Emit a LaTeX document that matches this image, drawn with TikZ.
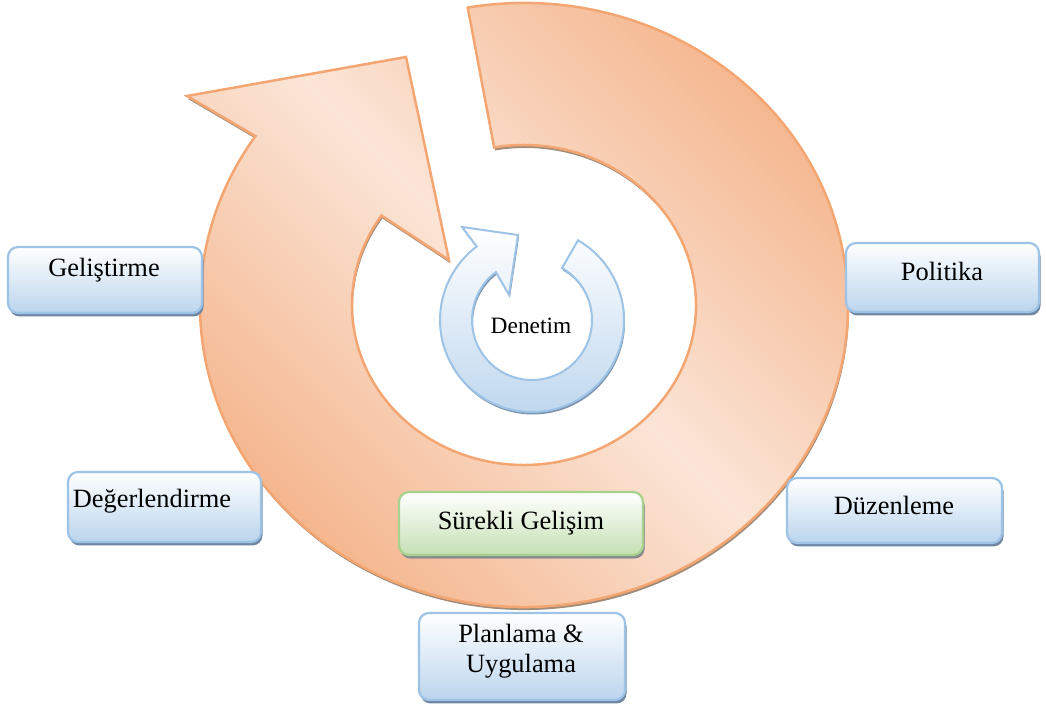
\documentclass[tikz,border=0pt]{standalone}
\usepackage{fontspec}
\setmainfont{Liberation Serif}
\usetikzlibrary{calc,shadows}

\definecolor{halkakoyu}{HTML}{F4B48B}
\definecolor{halkaacik}{HTML}{FBE5D7}
\definecolor{halkakenar}{HTML}{F4A672}
\definecolor{mavikenar}{HTML}{9DC3E6}
\definecolor{mavialt}{HTML}{BBD5ED}
\definecolor{yesilkenar}{HTML}{A9D18E}
\definecolor{yesilalt}{HTML}{C5E0B4}
\definecolor{golge}{HTML}{6F87A3}

\tikzset{
  kutu/.style={draw=mavikenar, line width=2.2pt, rounded corners=10pt,
    top color=white, bottom color=mavialt,
    drop shadow={shadow xshift=1.5pt, shadow yshift=-3.5pt, fill=golge, opacity=1}},
  yesilkutu/.style={kutu, draw=yesilkenar, bottom color=yesilalt,
    drop shadow={shadow xshift=1.5pt, shadow yshift=-3.5pt, fill=black!45, opacity=.8}},
  yazi/.style={anchor=base, inner sep=0pt, font=\fontsize{26.4}{30}\selectfont}
}

\begin{document}
\begin{tikzpicture}[x=1pt, y=1pt]
  \useasboundingbox (0,0) rectangle (1046,711);
  \coordinate (merkez) at (524,406);
  \coordinate (ic) at (532,391);

  % büyük dairesel ok
  \path[draw=halkakenar, line width=2.5pt, line join=miter,
        top color=halkakoyu, bottom color=halkakoyu, middle color=halkaacik, shading angle=-45,
        drop shadow={shadow xshift=1pt, shadow yshift=-3pt, fill=black!50!brown, opacity=.6}]
    ($(merkez)+(100:324 and 302)$) arc[start angle=100, end angle=-214, x radius=324, y radius=302]
    -- (187,615) -- (406,654) -- (449,451)
    -- ($(merkez)+(-214:172 and 160)$) arc[start angle=-214, end angle=100, x radius=172, y radius=160]
    -- cycle;

  % küçük dairesel ok
  \path[draw=mavikenar, line width=2pt, line join=miter,
        top color=white, bottom color=mavialt,
        drop shadow={shadow xshift=1pt, shadow yshift=-2.5pt, fill=golge, opacity=.9}]
    ($(ic)+(60:92)$) arc[start angle=60, end angle=-233, radius=92]
    -- (462,484) -- (518,476) -- (509,416)
    -- ($(ic)+(-233:60)$) arc[start angle=-233, end angle=60, radius=60]
    -- cycle;
  \node[yazi, font=\fontsize{23.4}{28}\selectfont] (denetim) at (531,377) {Denetim};

  % kutular
  \node[kutu, minimum width=194pt, minimum height=66pt] (gelistirme) at (105,431) {};
  \node[yazi] (gelistirmeyazi) at (104,434) {Geliştirme};

  \node[kutu, minimum width=193pt, minimum height=70pt] (degerlendirme) at (164.5,204) {};
  \node[yazi] (degerlendirmeyazi) at (152,203) {Değerlendirme};

  \node[kutu, minimum width=193pt, minimum height=69pt] (politika) at (942.5,433.5) {};
  \node[yazi] (politikayazi) at (942,430) {Politika};

  \node[kutu, minimum width=215pt, minimum height=65pt] (duzenleme) at (894.5,200.5) {};
  \node[yazi] (duzenlemeyazi) at (894,196) {Düzenleme};

  \node[yesilkutu, minimum width=244pt, minimum height=63pt] (surekli) at (521,187.5) {};
  \node[yazi] (sureklyazi) at (521,181) {Sürekli Gelişim};

  \node[kutu, minimum width=206pt, minimum height=87pt] (planlama) at (522,54.5) {};
  \node[yazi, align=center] (planlamayazi) at (521,38) {Planlama \&\\Uygulama};
\end{tikzpicture}
\end{document}
